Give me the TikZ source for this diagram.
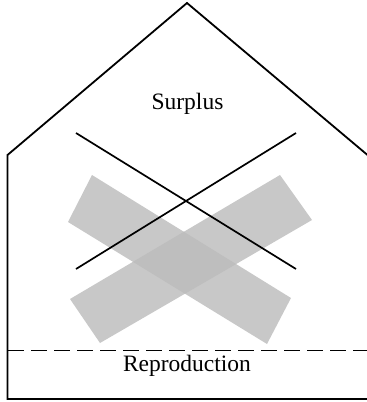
\documentclass[tikz,border=0pt]{standalone}
\usepackage{fontspec}
\setmainfont{Liberation Serif}
\definecolor{barfill}{HTML}{C8C8C8}
\definecolor{overlapfill}{HTML}{BEBEBE}
\begin{document}
\begin{tikzpicture}[x=1pt,y=-1pt,
  wall/.style={line width=1.8pt,line join=miter},
  cross/.style={line width=1.7pt},
  divider/.style={line width=1.8pt,dash pattern=on 16pt off 7pt},
  label/.style={font=\fontsize{23.5}{26}\selectfont,inner sep=0pt}]
\useasboundingbox (0,0) rectangle (367,402);
% grey bars
\coordinate (a1) at (92,175); \coordinate (a2) at (68,222);
\coordinate (a3) at (267,344); \coordinate (a4) at (291,298);
\coordinate (b1) at (280,175); \coordinate (b2) at (312,220);
\coordinate (b3) at (100,343); \coordinate (b4) at (70,299);
\fill[barfill] (a1) -- (a2) -- (a3) -- (a4) -- cycle;
\fill[barfill] (b1) -- (b2) -- (b3) -- (b4) -- cycle;
\begin{scope}
\clip (a1) -- (a2) -- (a3) -- (a4) -- cycle;
\fill[overlapfill] (b1) -- (b2) -- (b3) -- (b4) -- cycle;
\end{scope}
% house outline
\coordinate (apex) at (187,3);
\coordinate (lc) at (7.5,155);
\coordinate (rc) at (367.5,155);
\coordinate (lb) at (7.5,399);
\coordinate (rb) at (368,399);
\draw[wall] (rb) -- (lb) -- (lc) -- (apex) -- (rc);
% dashed divider
\coordinate (dl) at (8,350.5);
\coordinate (dr) at (368,350.5);
\draw[divider] (dl) -- (dr);
% black cross
\coordinate (x1) at (76,133); \coordinate (x2) at (296,269);
\coordinate (x3) at (296,133); \coordinate (x4) at (76,269);
\draw[cross] (x1) -- (x2);
\draw[cross] (x3) -- (x4);
% labels
\node[label] (surplus) at (187.5,104) {Surplus};
\node[label] (repro) at (187,366) {Reproduction};
\end{tikzpicture}
\end{document}
